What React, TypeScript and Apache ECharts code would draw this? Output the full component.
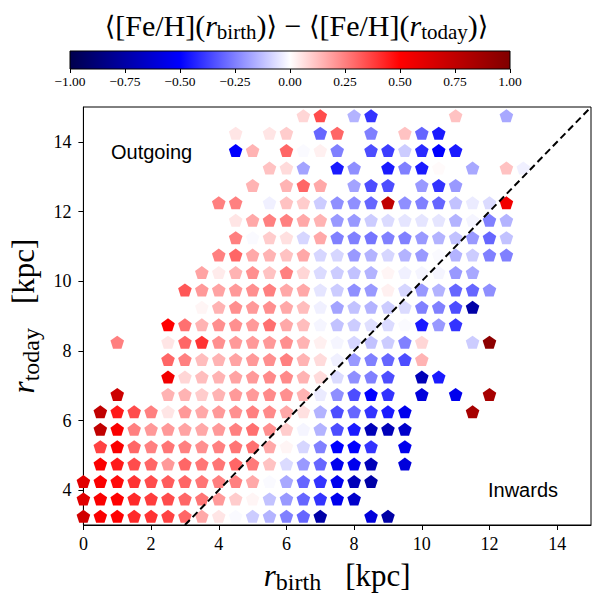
import React, { useEffect, useRef } from "react";
import * as echarts from "echarts";

const _ = null;

// r_birth bin centres (kpc)
const rBirthBins = [0, 0.5, 1, 1.5, 2, 2.5, 3, 3.5, 4, 4.5, 5, 5.5, 6, 6.5, 7, 7.5, 8, 8.5, 9, 9.5, 10, 10.5, 11, 11.5, 12, 12.5, 13];
// r_today bin centres (kpc)
const rTodayBins = [3.25, 3.75, 4.25, 4.75, 5.25, 5.75, 6.25, 6.75, 7.25, 7.75, 8.25, 8.75, 9.25, 9.75, 10.25, 10.75, 11.25, 11.75, 12.25, 12.75, 13.25, 13.75, 14.25, 14.75];

// <[Fe/H](r_birth)> - <[Fe/H](r_today)> per row (r_today), columns follow rBirthBins
const row_3_25 = [0.68, 0.52, 0.5, 0.42, 0.4, 0.37, 0.3, 0.17, 0.05, -0.01, -0.1, -0.15, -0.25, -0.3, -0.75, _, _, -0.6, -0.75, _, _, _, _, _, _, _, _];
const row_3_75 = [0.62, 0.52, 0.5, 0.42, 0.38, 0.35, 0.3, 0.27, 0.2, 0.1, 0.02, -0.12, -0.2, -0.3, -0.4, -0.55, -0.65, _, _, _, _, _, _, _, _, _, _];
const row_4_25 = [0.62, 0.52, 0.48, 0.4, 0.35, 0.32, 0.3, 0.27, 0.25, 0.25, 0.17, -0.01, -0.17, -0.3, -0.4, -0.55, -0.7, -0.75, _, _, _, _, _, _, _, _, _];
const row_4_75 = [_, 0.52, 0.45, 0.35, 0.3, 0.2, 0.3, 0.27, 0.27, 0.3, 0.26, 0.12, -0.07, -0.2, -0.3, -0.55, -0.55, -0.7, _, -0.6, _, _, _, _, _, _, _];
const row_5_25 = [_, 0.37, 0.52, 0.3, 0.25, 0.27, 0.25, 0.22, 0.25, 0.27, 0.28, 0.17, 0.02, -0.08, -0.25, -0.5, -0.5, -0.4, _, -0.55, _, _, _, _, _, _, _];
const row_5_75 = [_, 0.75, 0.52, 0.25, 0.2, 0.2, 0.18, 0.17, 0.2, 0.25, 0.28, 0.22, 0.1, -0.02, -0.15, -0.35, -0.45, -0.7, -0.7, -0.65, _, _, _, _, _, _, _];
const row_6_25 = [_, 0.75, 0.45, 0.35, 0.25, 0.05, 0.2, 0.17, 0.2, 0.22, 0.25, 0.23, 0.17, 0.06, -0.15, -0.35, -0.3, -0.4, -0.45, -0.55, _, _, _, 0.85, _, _, _];
const row_6_75 = [_, _, 0.7, _, _, 0.15, 0.15, 0.1, 0.15, 0.2, 0.2, 0.23, 0.22, 0.15, -0.04, -0.22, -0.35, -0.5, -0.4, _, -0.6, _, -0.55, _, 0.85, _, _];
const row_7_25 = [_, _, _, _, _, 0.55, 0.08, 0.13, 0.15, 0.18, 0.2, 0.23, 0.23, 0.15, 0.07, -0.07, -0.22, -0.25, -0.35, _, -0.7, -0.45, _, _, _, _, _];
const row_7_75 = [_, _, _, _, _, 0.3, 0.25, 0.13, 0.15, 0.18, 0.2, 0.22, 0.25, 0.15, 0.07, -0.03, -0.2, -0.25, -0.3, -0.35, 0.15, _, _, _, _, _, _];
const row_8_25 = [_, _, 0.25, _, _, 0.05, 0.3, 0.4, 0.22, 0.2, 0.2, 0.2, 0.22, 0.15, 0.03, -0.02, -0.08, -0.12, -0.1, -0.25, 0.08, _, _, -0.1, 0.95, _, _];
const row_8_75 = [_, _, _, _, _, 0.5, 0.28, 0.15, 0.22, 0.22, 0.2, 0.28, 0.17, 0.13, -0.02, -0.12, -0.1, -0.06, -0.07, -0.01, -0.45, -0.2, -0.4, _, _, _, _];
const row_9_25 = [_, _, _, _, _, _, _, 0.02, 0.15, 0.22, 0.2, 0.22, 0.17, 0.13, -0.03, -0.18, -0.12, -0.15, -0.1, -0.07, -0.25, -0.25, -0.35, -0.75, _, _, _];
const row_9_75 = [_, _, _, _, _, _, 0.33, 0.2, 0.18, 0.2, 0.22, 0.25, 0.17, 0.17, -0.05, -0.1, -0.22, -0.2, 0.03, -0.08, -0.2, -0.15, -0.3, -0.3, -0.22, _, _];
const row_10_25 = [_, _, _, _, _, _, _, 0.18, 0.04, 0.15, 0.22, 0.12, 0.25, 0.08, -0.07, -0.1, -0.12, -0.15, 0.02, -0.03, -0.02, -0.02, -0.2, -0.17, _, _, _];
const row_10_75 = [_, _, _, _, _, _, _, _, 0.25, 0.3, 0.17, 0.15, 0.12, 0.17, -0.08, -0.08, -0.2, -0.15, -0.08, -0.15, -0.2, -0.01, -0.15, -0.1, -0.25, -0.25, _];
const row_11_25 = [_, _, _, _, _, _, _, _, _, 0.25, -0.01, 0.1, 0.06, -0.08, 0.17, -0.25, -0.25, -0.27, -0.25, -0.25, -0.2, -0.15, -0.12, -0.2, -0.3, -0.12, _];
const row_11_75 = [_, _, _, _, _, _, _, _, _, 0.05, 0.17, 0.25, 0.25, 0.17, 0.15, -0.2, -0.2, -0.1, -0.07, -0.05, -0.05, -0.05, -0.15, -0.02, -0.25, -0.15, _];
const row_12_25 = [_, _, _, _, _, _, _, _, 0.25, 0.25, _, -0.03, 0.12, 0.1, -0.1, -0.22, -0.22, -0.3, 0.75, -0.22, -0.25, -0.3, -0.12, -0.04, -0.07, 0.55, _];
const row_12_75 = [_, _, _, _, _, _, _, _, _, _, 0.15, _, 0.15, 0.3, 0.17, _, -0.18, -0.35, -0.35, _, -0.2, -0.4, -0.2, _, _, _, _];
const row_13_25 = [_, _, _, _, _, _, _, _, _, _, _, 0.12, 0.07, -0.18, _, -0.45, -0.22, _, -0.45, -0.25, -0.45, 0.01, _, -0.17, _, 0.12, -0.03];
const row_13_75 = [_, _, _, _, _, _, _, _, _, -0.5, 0.15, _, 0.3, -0.01, 0.03, -0.25, _, -0.35, -0.38, -0.1, -0.42, -0.5, -0.45, _, _, _, _];
const row_14_25 = [_, _, _, _, _, _, _, _, _, 0.05, _, 0.05, 0.1, _, -0.3, 0.3, _, -0.25, _, 0.12, -0.3, -0.45, _, _, _, _, _];
const row_14_75 = [_, _, _, _, _, _, _, _, _, _, _, _, _, 0.08, 0.35, _, -0.15, -0.4, _, _, _, _, 0.12, _, _, -0.17, _];

const dFeHRows = [
  row_3_25, row_3_75, row_4_25, row_4_75, row_5_25, row_5_75, row_6_25, row_6_75,
  row_7_25, row_7_75, row_8_25, row_8_75, row_9_25, row_9_75, row_10_25, row_10_75,
  row_11_25, row_11_75, row_12_25, row_12_75, row_13_25, row_13_75, row_14_25, row_14_75,
];

const xTicks = [0, 2, 4, 6, 8, 10, 12, 14];
const yTicks = [4, 6, 8, 10, 12, 14];
const seismicStops = ["#00004d", "#0000ff", "#ffffff", "#ff0000", "#800000"];
const diagonalLine = [[3, 3], [15, 15]];

const PENTAGON = "path://M0,-1L0.9511,-0.309L0.5878,0.809L-0.5878,0.809L-0.9511,-0.309Z";
const SERIF = "Liberation Serif";

function buildPoints() {
  const pts: number[][] = [];
  dFeHRows.forEach((row, i) => {
    row.forEach((v, j) => {
      if (v !== null && v !== undefined) pts.push([rBirthBins[j], rTodayBins[i], v as number]);
    });
  });
  return pts;
}

export default function App() {
  const ref = useRef<HTMLDivElement>(null);
  useEffect(() => {
    if (!ref.current) return;
    const chart = echarts.init(ref.current, undefined, { renderer: "svg" });
    const gradient = {
      type: "linear", x: 0, y: 0, x2: 1, y2: 0,
      colorStops: seismicStops.map((c, i) => ({ offset: i / (seismicStops.length - 1), color: c })),
    };
    const axisNameRich = () => ({
      r: { fontFamily: SERIF, fontStyle: "italic", fontWeight: "normal", fontSize: 31, color: "#000" },
      s: { fontFamily: SERIF, fontWeight: "normal", fontSize: 24, color: "#000", padding: [14, 0, 0, 0] },
      k: { fontFamily: SERIF, fontWeight: "normal", fontSize: 31, color: "#000", padding: [0, 0, 0, 24] },
    });
    const option: any = {
      animation: false,
      backgroundColor: "#ffffff",
      title: {
        text: "{a|⟨}{m|[Fe/H](}{i|r}{s|birth}{m|)}{a|⟩}{m| − }{a|⟨}{m|[Fe/H](}{i|r}{s|today}{m|)}{a|⟩}",
        left: "center",
        top: 4,
        textStyle: {
          fontWeight: "normal",
          rich: {
            a: { fontFamily: "DejaVu Serif", fontWeight: "normal", fontSize: 27, color: "#000" },
            m: { fontFamily: SERIF, fontWeight: "normal", fontSize: 30, color: "#000" },
            i: { fontFamily: SERIF, fontStyle: "italic", fontWeight: "normal", fontSize: 30, color: "#000" },
            s: { fontFamily: SERIF, fontWeight: "normal", fontSize: 21, color: "#000", padding: [12, 0, 0, 0] },
          },
        },
      },
      grid: [
        { left: 83, top: 107, width: 508, height: 424, show: true, borderColor: "#000", borderWidth: 1, backgroundColor: "transparent" },
        { left: 70, top: 51, width: 440, height: 18, show: false },
      ],
      xAxis: [
        {
          gridIndex: 0, type: "value", min: 0, max: 15,
          name: "{r|r}{s|birth}{k|[kpc]}", nameLocation: "middle", nameGap: 31,
          nameTextStyle: { rich: axisNameRich() },
          axisLine: { show: true, onZero: false, lineStyle: { color: "#000", width: 1 } },
          axisTick: { show: true, length: 5, customValues: xTicks, lineStyle: { color: "#000", width: 1 } },
          axisLabel: { customValues: xTicks, margin: 10, fontFamily: SERIF, fontSize: 18, color: "#000" },
          splitLine: { show: false },
        },
        {
          gridIndex: 1, type: "value", min: -1, max: 1, interval: 0.25,
          axisLine: { show: false },
          axisTick: { show: true, length: 4, lineStyle: { color: "#000", width: 1 } },
          axisLabel: {
            margin: 5, fontFamily: SERIF, fontSize: 13.5, color: "#000",
            formatter: (v: number) => v.toFixed(2).replace("-", "−"),
          },
          splitLine: { show: false },
        },
      ],
      yAxis: [
        {
          gridIndex: 0, type: "value", min: 3, max: 15,
          name: "{r|r}{s|today}{k|[kpc]}", nameLocation: "middle", nameGap: 32, nameRotate: 90,
          nameTextStyle: { rich: axisNameRich() },
          axisLine: { show: true, onZero: false, lineStyle: { color: "#000", width: 1 } },
          axisTick: { show: true, length: 5, customValues: yTicks, lineStyle: { color: "#000", width: 1 } },
          axisLabel: { customValues: yTicks, margin: 12, fontFamily: SERIF, fontSize: 18, color: "#000" },
          splitLine: { show: false },
        },
        { gridIndex: 1, type: "value", min: 0, max: 1, show: false },
      ],
      visualMap: {
        type: "continuous", show: false, min: -1, max: 1, dimension: 2, seriesIndex: 0,
        inRange: { color: seismicStops },
      },
      graphic: [
        {
          type: "rect", x: 70, y: 51, z: 10,
          shape: { x: 0, y: 0, width: 440, height: 18 },
          style: { fill: gradient, stroke: "#000", lineWidth: 1 },
        },
        {
          type: "text", x: 111, y: 152, z: 10,
          style: { text: "Outgoing", fontFamily: "Liberation Sans", fontSize: 20, fill: "#000", align: "left", verticalAlign: "middle" },
        },
        {
          type: "text", x: 488, y: 490, z: 10,
          style: { text: "Inwards", fontFamily: "Liberation Sans", fontSize: 20, fill: "#000", align: "left", verticalAlign: "middle" },
        },
      ],
      series: [
        {
          type: "scatter", xAxisIndex: 0, yAxisIndex: 0,
          data: buildPoints(),
          symbol: PENTAGON, symbolSize: [13.6, 13],
          itemStyle: { opacity: 1 },
          clip: true, z: 2,
        },
        {
          type: "line", xAxisIndex: 0, yAxisIndex: 0,
          data: diagonalLine, symbol: "none", silent: true,
          lineStyle: { color: "#000", width: 2, type: [7, 4] },
          z: 5,
        },
      ],
    };
    chart.setOption(option);
    return () => chart.dispose();
  }, []);
  return <div ref={ref} style={{ position: "absolute", left: 0, top: 0, width: 593, height: 599 }} />;
}
